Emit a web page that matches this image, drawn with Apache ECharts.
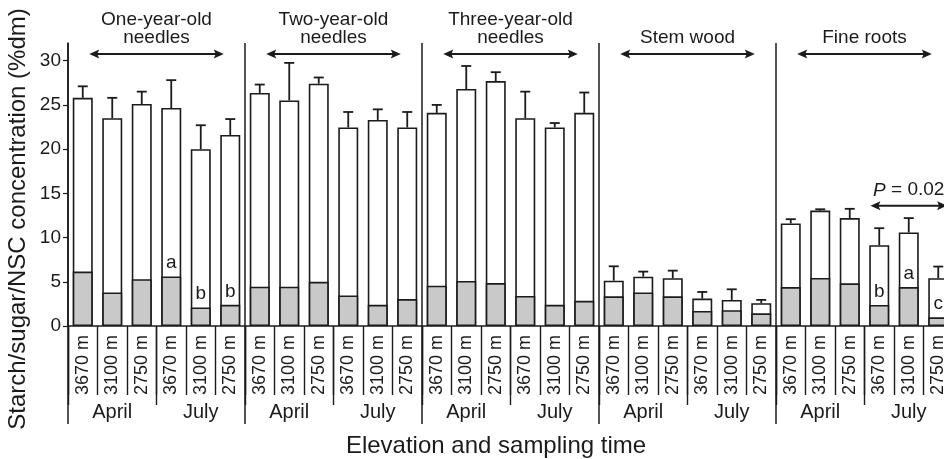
<!DOCTYPE html>
<html>
<head>
<meta charset="utf-8">
<script src="https://cdn.jsdelivr.net/npm/echarts@6/dist/echarts.min.js"></script>
<style>
html,body{margin:0;padding:0;background:#fff;}
#chart{width:944px;height:459px;}
</style>
</head>
<body>
<div id="chart"></div>
<script>
// ---- data ----
const groupNames = ['One-year-old\nneedles', 'Two-year-old\nneedles', 'Three-year-old\nneedles', 'Stem wood', 'Fine roots'];
const months = ['April', 'July'];
const elevations = ['3670 m', '3100 m', '2750 m'];
const yTicks = [0, 5, 10, 15, 20, 25, 30];

// NSC (total bar height), %dm
const nscTotal = [
  25.8, 23.5, 25.1, 24.65, 20.0, 21.6,
  26.35, 25.5, 27.4, 22.45, 23.3, 22.45,
  24.1, 26.8, 27.7, 23.5, 22.45, 24.1,
  5.13, 5.58, 5.4, 3.1, 2.95, 2.57,
  11.6, 13.05, 12.2, 9.13, 10.57, 5.4
];
// error (upper whisker length)
const nscErr = [
  1.3, 2.3, 1.4, 3.15, 2.7, 1.8,
  0.95, 4.25, 0.7, 1.75, 1.2, 1.75,
  0.9, 2.6, 1.0, 3.0, 0.5, 2.3,
  1.62, 0.57, 0.86, 0.75, 1.2, 0.38,
  0.48, 0.15, 1.05, 1.93, 1.63, 1.32
];
// starch (grey lower part)
const starch = [
  6.15, 3.8, 5.3, 5.6, 2.1, 2.4,
  4.45, 4.45, 5.0, 3.45, 2.4, 3.05,
  4.55, 5.1, 4.85, 3.4, 2.4, 2.85,
  3.35, 3.8, 3.35, 1.7, 1.78, 1.43,
  4.4, 5.43, 4.83, 2.38, 4.4, 0.98
];
// significance letters
const letters = [
  '', '', '', 'a', 'b', 'b',
  '', '', '', '', '', '',
  '', '', '', '', '', '',
  '', '', '', '', '', '',
  '', '', '', 'b', 'a', 'c'
];
const pAnnotation = { text: '0.02', fromIndex: 27, toIndex: 29, value: 13.6 };

// ---- derived category lists ----
const categories = [];
const monthCats = [];
groupNames.forEach(function () {
  months.forEach(function (m) {
    monthCats.push(m);
    elevations.forEach(function (e) { categories.push(e); });
  });
});
const groupCats = groupNames.map(function (g) { return g.replace('\n', ' '); });

const FONT = '"Liberation Sans", Arial, Helvetica, sans-serif';
const INK = '#1b1b1b';

const chart = echarts.init(document.getElementById('chart'));

const option = {
  animation: false,
  backgroundColor: '#fff',
  grid: { left: 68, top: 43, width: 885, height: 283, containLabel: false, outerBoundsMode: 'none' },
  xAxis: [
    {
      type: 'category', position: 'bottom', offset: 0,
      data: categories, boundaryGap: true,
      axisLine: { show: true, lineStyle: { color: INK, width: 1.6 } },
      axisTick: { show: true, interval: 0, length: 69, lineStyle: { color: INK, width: 1.4 } },
      axisLabel: { interval: 0, rotate: 90, margin: 9, fontSize: 18, color: INK, fontFamily: FONT },
      splitLine: { show: false }
    },
    {
      type: 'category', position: 'bottom', offset: 0,
      data: monthCats, boundaryGap: true,
      axisLine: { show: false },
      axisTick: { show: true, interval: 0, length: 79, lineStyle: { color: INK, width: 1.4 } },
      axisLabel: { interval: 0, margin: 76, fontSize: 20, color: INK, fontFamily: FONT },
      splitLine: { show: false }
    },
    {
      type: 'category', position: 'bottom', offset: 0,
      data: groupCats, boundaryGap: true,
      axisLine: { show: false },
      axisTick: { show: true, interval: 0, length: 98, lineStyle: { color: INK, width: 1.5 } },
      axisLabel: { show: false },
      splitLine: { show: true, interval: 0, lineStyle: { color: INK, width: 1.5 } }
    }
  ],
  yAxis: {
    type: 'value', min: 0, max: 32, interval: 5,
    axisLine: { show: true, lineStyle: { color: INK, width: 1.6 } },
    axisTick: { show: true, length: 5, lineStyle: { color: INK, width: 1.2 }, customValues: yTicks },
    axisLabel: { margin: 7, fontSize: 19, color: INK, fontFamily: FONT, customValues: yTicks },
    splitLine: { show: false }
  },
  series: [
    {
      name: 'NSC', type: 'bar', xAxisIndex: 0, barWidth: 20,
      data: nscTotal,
      itemStyle: { color: '#ffffff', borderColor: INK, borderWidth: 1.6 }
    },
    {
      name: 'Starch', type: 'bar', xAxisIndex: 0, barWidth: 20, barGap: '-100%',
      data: starch,
      itemStyle: { color: '#c9c9c9', borderColor: INK, borderWidth: 1.6 },
      label: {
        show: true, position: 'top', distance: 4,
        fontSize: 19, color: INK, fontFamily: FONT,
        formatter: function (p) { return letters[p.dataIndex]; }
      }
    },
    {
      name: 'Error', type: 'custom', xAxisIndex: 0,
      data: nscTotal.map(function (v, i) { return [i, v, nscErr[i]]; }),
      renderItem: function (params, api) {
        const i = api.value(0), v = api.value(1), e = api.value(2);
        const p0 = api.coord([i, v]);
        const p1 = api.coord([i, v + e]);
        const hw = 5;
        return {
          type: 'group',
          children: [
            { type: 'line', shape: { x1: p0[0], y1: p0[1], x2: p1[0], y2: p1[1] }, style: { stroke: INK, lineWidth: 1.8 } },
            { type: 'line', shape: { x1: p1[0] - hw, y1: p1[1], x2: p1[0] + hw, y2: p1[1] }, style: { stroke: INK, lineWidth: 1.8 } }
          ]
        };
      },
      z: 5
    }
  ]
};
chart.setOption(option);

// ---- annotations (positions computed from the axes) ----
function px(idx, val) { return chart.convertToPixel({ xAxisIndex: 0, yAxisIndex: 0 }, [idx, val]); }
function arrow(x1, x2, y) {
  const L = 10, H = 4.5;
  return {
    type: 'group',
    children: [
      { type: 'line', shape: { x1: x1 + 4, y1: y, x2: x2 - 4, y2: y }, style: { stroke: INK, lineWidth: 2 } },
      { type: 'polygon', shape: { points: [[x1, y], [x1 + L, y - H], [x1 + L - 2, y], [x1 + L, y + H]] }, style: { fill: INK } },
      { type: 'polygon', shape: { points: [[x2, y], [x2 - L, y - H], [x2 - L + 2, y], [x2 - L, y + H]] }, style: { fill: INK } }
    ]
  };
}
const slot = px(1, 0)[0] - px(0, 0)[0];
const topY = px(0, 32)[1];
const graphics = [];
groupNames.forEach(function (g, gi) {
  const a = px(gi * 6, 0)[0];
  const b = px(gi * 6 + 5, 0)[0];
  const cx = (a + b) / 2;
  graphics.push({
    type: 'text', x: cx, y: topY + 4,
    style: { text: g, font: '19px ' + FONT, fill: INK, textAlign: 'center', textVerticalAlign: 'bottom', lineHeight: 18 }
  });
  graphics.push(arrow(a + slot * 0.22, b - slot * 0.22, topY + 11));
});
// P = 0.02 bracket
(function () {
  const a = px(pAnnotation.fromIndex, pAnnotation.value);
  const b = px(pAnnotation.toIndex, pAnnotation.value);
  const x1 = a[0] - slot * 0.3, x2 = b[0] + slot * 0.3;
  graphics.push(arrow(x1, x2, a[1]));
  graphics.push({
    type: 'text', x: (x1 + x2) / 2, y: a[1] - 6,
    style: {
      text: '{i|P} = ' + pAnnotation.text,
      font: '19px ' + FONT, fill: INK, textAlign: 'center', textVerticalAlign: 'bottom',
      rich: { i: { fontStyle: 'italic', fontSize: 19, fontFamily: FONT, fill: INK } }
    }
  });
})();
// axis titles
graphics.push({
  type: 'text', x: 18, y: 219, rotation: Math.PI / 2,
  style: { text: 'Starch/sugar/NSC concentration (%dm)', font: '24px ' + FONT, fill: INK, textAlign: 'center', textVerticalAlign: 'middle' }
});
graphics.push({
  type: 'text', x: 496, y: 446,
  style: { text: 'Elevation and sampling time', font: '24px ' + FONT, fill: INK, textAlign: 'center', textVerticalAlign: 'middle' }
});
chart.setOption({ graphic: graphics });
</script>
</body>
</html>
